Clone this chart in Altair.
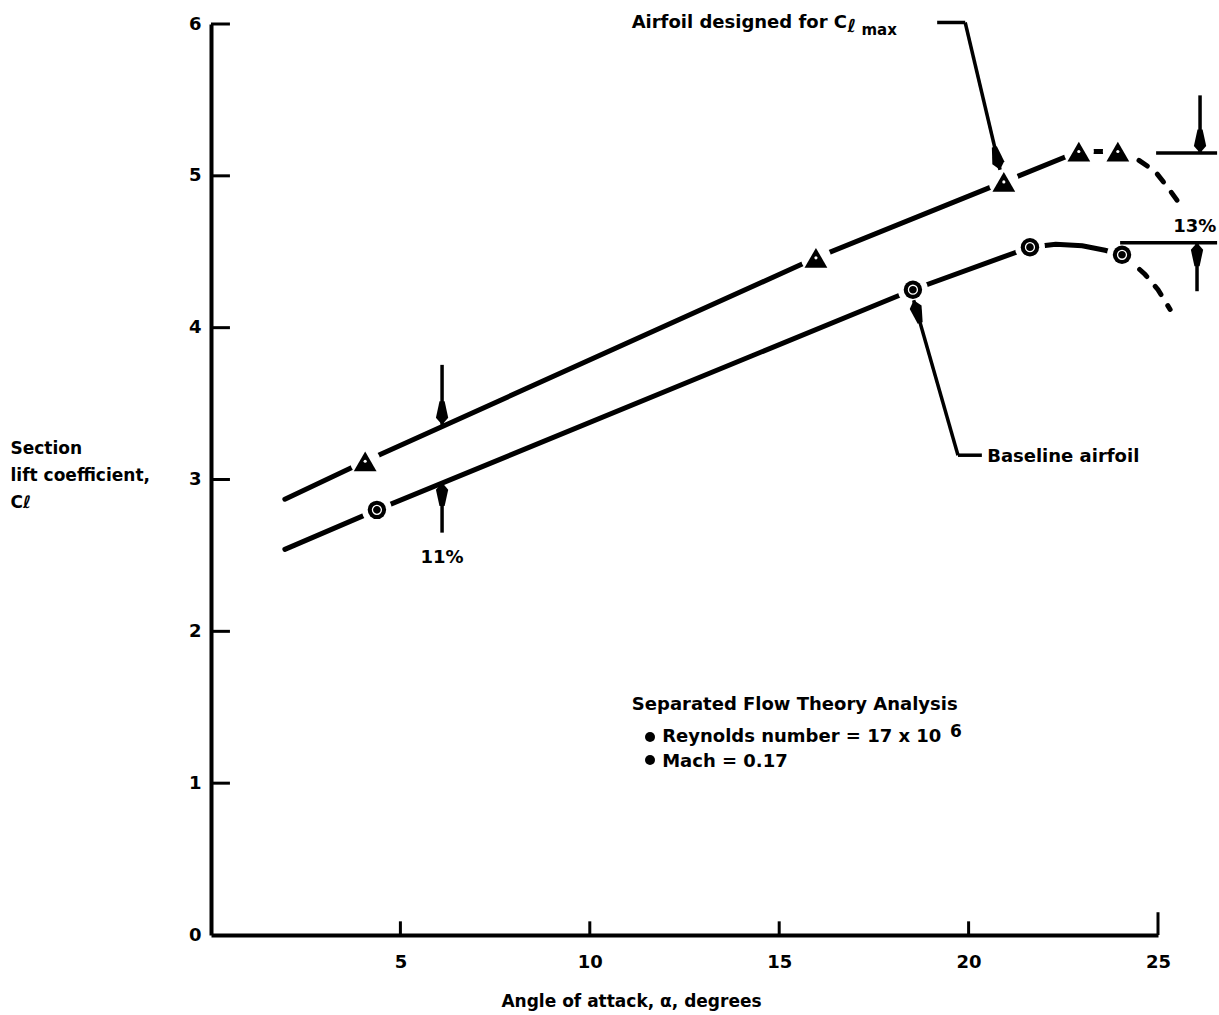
import altair as alt
import pandas as pd

FONT = "DejaVu Sans"

# ---- data ----
designed_x = [1.95, 4.07, 15.97, 20.93, 22.91, 23.94]
designed_y = [2.87, 3.12, 4.46, 4.96, 5.16, 5.16]
designed_marker_x = [4.07, 15.97, 20.93, 22.91, 23.94]
designed_marker_y = [3.12, 4.46, 4.96, 5.16, 5.16]
designed_stall_x = [23.94, 24.45, 24.92, 25.24, 25.5]
designed_stall_y = [5.16, 5.11, 5.03, 4.93, 4.84]

baseline_x = [1.95, 4.38, 18.53, 21.62, 22.3, 23.0, 23.6, 24.05]
baseline_y = [2.54, 2.80, 4.25, 4.53, 4.55, 4.54, 4.51, 4.48]
baseline_marker_x = [4.38, 18.53, 21.62, 24.05]
baseline_marker_y = [2.80, 4.25, 4.53, 4.48]
baseline_stall_x = [24.05, 24.31, 24.66, 25.0, 25.32]
baseline_stall_y = [4.48, 4.43, 4.35, 4.25, 4.12]

x_ticks = [5, 10, 15, 20, 25]
x_tick_top = [0.09, 0.09, 0.09, 0.09, 0.15]
y_ticks = [1, 2, 3, 4, 5, 6]

# annotation segments (x, y, x2, y2)
seg_x = [19.17, 19.91, 18.55, 19.72, 6.1, 6.1, 24.95, 26.11, 24.0, 26.03]
seg_y = [6.01, 6.01, 4.18, 3.16, 3.755, 2.65, 5.15, 5.53, 4.56, 4.24]
seg_x2 = [19.91, 20.83, 19.72, 20.35, 6.1, 6.1, 26.56, 26.11, 26.56, 26.03]
seg_y2 = [6.01, 5.04, 3.16, 3.16, 3.36, 2.98, 5.15, 5.15, 4.56, 4.56]

# arrow heads (tip position and rotation)
arrow_x = [20.83, 18.55, 6.1, 6.1, 26.11, 26.03]
arrow_y = [5.04, 4.18, 3.36, 2.98, 5.15, 4.56]
arrow_angle = [346, 164, 0, 180, 0, 180]

# texts
left_text = ["Baseline airfoil", "Separated Flow Theory Analysis",
             "Reynolds number = 17 x 10", "Mach = 0.17"]
left_text_x = [20.49, 11.11, 11.91, 11.91]
left_text_y = [3.116, 1.482, 1.271, 1.107]
center_text = ["11%", "13%"]
center_text_x = [6.1, 25.97]
center_text_y = [2.45, 4.63]
bullet_x = [11.59, 11.59]
bullet_y = [1.304, 1.153]

W, H = 947, 911
xs = alt.Scale(domain=[0, 25], nice=False, zero=False)
ys = alt.Scale(domain=[0, 6], nice=False, zero=False)

x_axis = alt.Axis(values=x_ticks, ticks=False, tickSize=0, grid=False,
                  domainColor="black", domainWidth=4, labelFlush=False,
                  labelFont=FONT, labelFontSize=18, labelFontWeight="bold",
                  labelColor="black", labelPadding=18,
                  title="Angle of attack, α, degrees", titleFont=FONT,
                  titleFontSize=17, titleFontWeight="bold", titleColor="black",
                  titleX=420, titleY=71, titleAlign="center",
                  titleBaseline="alphabetic")
y_axis = alt.Axis(values=[0] + y_ticks, ticks=False, tickSize=0, grid=False,
                  domainColor="black", domainWidth=4, labelFlush=False,
                  labelFont=FONT, labelFontSize=18, labelFontWeight="bold",
                  labelColor="black", labelPadding=10,
                  title=["Section", "lift coefficient,", "Cℓ"],
                  titleFont=FONT, titleFontSize=17, titleFontWeight="bold",
                  titleColor="black", titleAngle=0, titleAlign="left",
                  titleBaseline="alphabetic", titleX=-201, titleY=429,
                  titleLineHeight=27)


def df(**cols):
    return pd.DataFrame(cols)


def enc_xy(xf="x", yf="y"):
    return dict(x=alt.X(f"{xf}:Q", scale=xs, axis=x_axis),
                y=alt.Y(f"{yf}:Q", scale=ys, axis=y_axis))


upper = alt.Chart(df(x=designed_x, y=designed_y)).mark_line(
    color="black", strokeWidth=5, strokeCap="round").encode(**enc_xy())
lower = alt.Chart(df(x=baseline_x, y=baseline_y)).mark_line(
    color="black", strokeWidth=5, strokeCap="round").encode(**enc_xy())

dash_kw = dict(color="black", strokeWidth=5, strokeDash=[10, 13], strokeCap="round")
upper_dash = alt.Chart(df(x=designed_stall_x, y=designed_stall_y)).mark_line(**dash_kw).encode(**enc_xy())
lower_dash = alt.Chart(df(x=baseline_stall_x, y=baseline_stall_y)).mark_line(**dash_kw).encode(**enc_xy())

tri = df(x=designed_marker_x, y=designed_marker_y)
circ = df(x=baseline_marker_x, y=baseline_marker_y)

halo_tri = alt.Chart(tri).mark_point(shape="circle", filled=True, color="white",
                                     opacity=1, size=900).encode(**enc_xy())
halo_circ = alt.Chart(circ).mark_point(shape="circle", filled=True, color="white",
                                       opacity=1, size=900).encode(**enc_xy())
tri_m = alt.Chart(tri).mark_point(shape="triangle-up", filled=True, color="black",
                                  opacity=1, size=520).encode(**enc_xy())
tri_dot = alt.Chart(tri).mark_point(shape="circle", filled=True, color="white",
                                    opacity=1, size=10, dy=3).encode(**enc_xy())
circ_m = alt.Chart(circ).mark_point(shape="circle", filled=True, color="black",
                                    opacity=1, size=340).encode(**enc_xy())
circ_ring = alt.Chart(circ).mark_point(shape="circle", filled=False, color="white",
                                       opacity=1, size=80, strokeWidth=1.3).encode(**enc_xy())

# axis ticks pointing inward
xt = alt.Chart(df(x=x_ticks, y=[0] * len(x_ticks), y1=x_tick_top)).mark_rule(
    color="black", strokeWidth=3).encode(y2="y1:Q", **enc_xy())
yt = alt.Chart(df(y=y_ticks, x=[0] * len(y_ticks), x1=[0.5] * len(y_ticks))).mark_rule(
    color="black", strokeWidth=3).encode(x2="x1:Q", **enc_xy())

segs = alt.Chart(df(x=seg_x, y=seg_y, x2=seg_x2, y2=seg_y2)).mark_rule(
    color="black", strokeWidth=3.5).encode(x2="x2:Q", y2="y2:Q", **enc_xy())

arrow_path = "M0,0L-0.6,-0.7L-0.25,-2.3L0.25,-2.3L0.6,-0.7Z"
arrows = alt.Chart(df(x=arrow_x, y=arrow_y, a=arrow_angle)).mark_point(
    shape=arrow_path, filled=True, color="black", opacity=1, size=420,
    strokeWidth=0).encode(angle=alt.Angle("a:Q", scale=None), **enc_xy())

txt_kw = dict(font=FONT, fontSize=18, fontWeight="bold", color="black",
              baseline="alphabetic")
ltext = alt.Chart(df(x=left_text_x, y=left_text_y, t=left_text)).mark_text(
    align="left", **txt_kw).encode(text="t:N", **enc_xy())
ctext = alt.Chart(df(x=center_text_x, y=center_text_y, t=center_text)).mark_text(
    align="center", **txt_kw).encode(text="t:N", **enc_xy())
bullets = alt.Chart(df(x=bullet_x, y=bullet_y)).mark_point(
    shape="circle", filled=True, color="black", opacity=1, size=100).encode(**enc_xy())

# title of the designed airfoil with subscript, and the superscript exponent
title_main = alt.Chart(df(x=[16.79], y=[5.975], t=["Airfoil designed for C"])).mark_text(
    align="right", **txt_kw).encode(text="t:N", **enc_xy())
title_l = alt.Chart(df(x=[16.8], y=[5.95], t=["ℓ"])).mark_text(
    align="left", font=FONT, fontSize=18, fontWeight="bold", color="black",
    baseline="alphabetic").encode(text="t:N", **enc_xy())
title_max = alt.Chart(df(x=[17.17], y=[5.925], t=["max"])).mark_text(
    align="left", font=FONT, fontSize=15, fontWeight="bold", color="black",
    baseline="alphabetic").encode(text="t:N", **enc_xy())
sup6 = alt.Chart(df(x=[19.51], y=[1.304], t=["6"])).mark_text(
    align="left", font=FONT, fontSize=17, fontWeight="bold", color="black",
    baseline="alphabetic").encode(text="t:N", **enc_xy())

chart = alt.layer(
    upper, lower, upper_dash, lower_dash,
    halo_tri, halo_circ, tri_m, tri_dot, circ_m, circ_ring,
    xt, yt, segs, arrows, ltext, ctext, bullets,
    title_main, title_l, title_max, sup6,
).properties(
    width=W, height=H,
    autosize=alt.AutoSizeParams(type="none"),
    padding={"left": 211, "top": 24, "right": 61, "bottom": 80},
    background="white",
).configure_view(stroke=None)

chart.save("out.html", embed_options={"renderer": "svg", "actions": False})
